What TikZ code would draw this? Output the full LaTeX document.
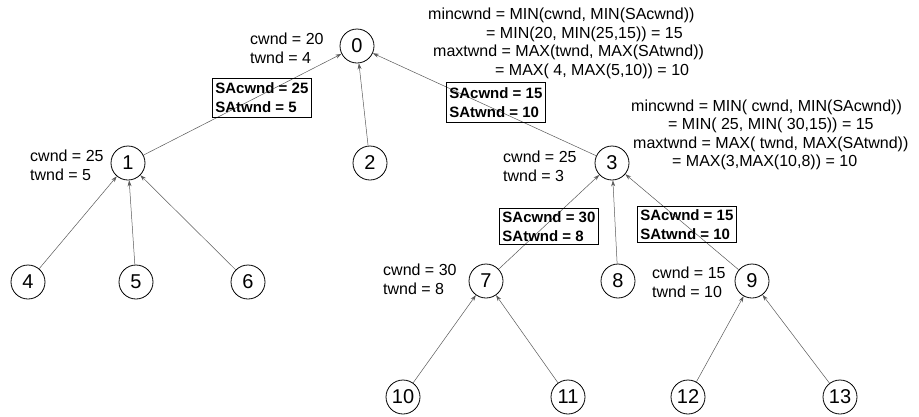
\documentclass[tikz,border=0pt]{standalone}
\usepackage{fontspec}
\setmainfont{Liberation Sans}
\usetikzlibrary{arrows.meta}
\begin{document}
\begin{tikzpicture}[x=1pt,y=-1pt,
  every node/.style={font=\fontsize{16}{19}\selectfont},
  vtx/.style={circle,draw=black,line width=0.8pt,minimum size=34pt,inner sep=0pt,font=\fontsize{20}{22}\selectfont},
  lbl/.style={anchor=base west,inner sep=0pt},
  sabox/.style={draw=black,line width=0.8pt,anchor=north west,align=left,inner xsep=3pt,inner ysep=0pt,font=\fontsize{15}{19}\selectfont\bfseries},
  edge/.style={draw=black!65,line width=0.5pt,-{Stealth[length=6pt,width=4pt,inset=2pt]}}]
\useasboundingbox (0,0) rectangle (919,416);
% nodes
\node[vtx] (n0) at (357,46) {0};
\node[vtx] (n1) at (128,163) {1};
\node[vtx] (n2) at (370,163) {2};
\node[vtx] (n3) at (612,163) {3};
\node[vtx] (n4) at (28,282) {4};
\node[vtx] (n5) at (136,282) {5};
\node[vtx] (n6) at (248,282) {6};
\node[vtx] (n7) at (486,281) {7};
\node[vtx] (n8) at (618,281) {8};
\node[vtx] (n9) at (752,281) {9};
\node[vtx] (n10) at (403,397) {10};
\node[vtx] (n11) at (568,397) {11};
\node[vtx] (n12) at (688,397) {12};
\node[vtx] (n13) at (840,397) {13};
% edges
\draw[edge] (n1) -- (n0);
\draw[edge] (n2) -- (n0);
\draw[edge] (n3) -- (n0);
\draw[edge] (n4) -- (n1);
\draw[edge] (n5) -- (n1);
\draw[edge] (n6) -- (n1);
\draw[edge] (n7) -- (n3);
\draw[edge] (n8) -- (n3);
\draw[edge] (n9) -- (n3);
\draw[edge] (n10) -- (n7);
\draw[edge] (n11) -- (n7);
\draw[edge] (n12) -- (n9);
\draw[edge] (n13) -- (n9);
% boxes
\node[sabox,minimum width=97pt,minimum height=39pt] (b1) at (212,78) {SAcwnd = 25\\SAtwnd = 5};
\node[sabox,minimum width=95pt,minimum height=40pt] (b2) at (446,82) {SAcwnd = 15\\SAtwnd = 10};
\node[sabox,minimum width=99pt,minimum height=36pt] (b3) at (499,208) {SAcwnd = 30\\SAtwnd = 8};
\node[sabox,minimum width=97pt,minimum height=36pt] (b4) at (637,206) {SAcwnd = 15\\SAtwnd = 10};
% labels
\node[lbl] (l0a) at (250,44) {cwnd = 20};
\node[lbl] (l0b) at (250,63) {twnd = 4};
\node[lbl] (l1a) at (30,161) {cwnd = 25};
\node[lbl] (l1b) at (30,180) {twnd = 5};
\node[lbl] (l3a) at (503,162) {cwnd = 25};
\node[lbl] (l3b) at (503,181) {twnd = 3};
\node[lbl] (l7a) at (383,275) {cwnd = 30};
\node[lbl] (l7b) at (383,294) {twnd = 8};
\node[lbl] (l9a) at (652,278) {cwnd = 15};
\node[lbl] (l9b) at (652,297) {twnd = 10};
% formulas
\node[lbl] (f1) at (428,19) {mincwnd = MIN(cwnd, MIN(SAcwnd))};
\node[lbl] (f2) at (486,38) {= MIN(20, MIN(25,15)) = 15};
\node[lbl] (f3) at (433,56) {maxtwnd = MAX(twnd, MAX(SAtwnd))};
\node[lbl] (f4) at (495,75) {= MAX( 4, MAX(5,10)) = 10};
\node[lbl] (g1) at (631,111) {mincwnd = MIN( cwnd, MIN(SAcwnd))};
\node[lbl] (g2) at (668,129.5) {= MIN( 25, MIN( 30,15)) = 15};
\node[lbl] (g3) at (633,148) {maxtwnd = MAX( twnd, MAX(SAtwnd))};
\node[lbl] (g4) at (672,166.5) {= MAX(3,MAX(10,8)) = 10};
\end{tikzpicture}
\end{document}
